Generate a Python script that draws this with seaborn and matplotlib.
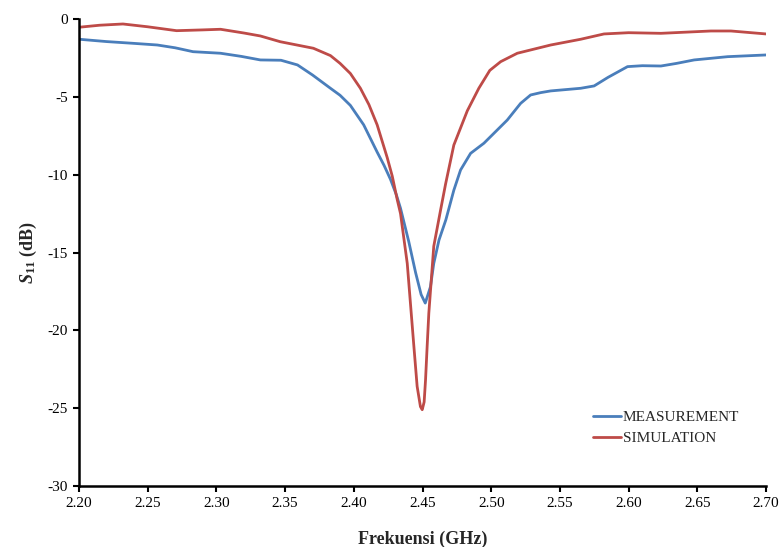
import numpy as np
import pandas as pd
import matplotlib
matplotlib.use("Agg")
import matplotlib.pyplot as plt
import seaborn as sns

# ---- data ----
meas_f = [2.200, 2.220, 2.239, 2.257, 2.270, 2.283, 2.303, 2.318, 2.332, 2.347, 2.359,
          2.370, 2.383, 2.390, 2.3975, 2.4072, 2.417, 2.422, 2.4267, 2.431, 2.434, 2.440,
          2.445, 2.449, 2.452, 2.4558, 2.4582, 2.462, 2.467, 2.4728, 2.4777, 2.485,
          2.4947, 2.502, 2.5117, 2.5214, 2.5287, 2.536, 2.5433, 2.5652, 2.5749, 2.585,
          2.5992, 2.610, 2.6235, 2.635, 2.6477, 2.6721, 2.700]
meas_s = [-1.30, -1.45, -1.56, -1.67, -1.85, -2.10, -2.20, -2.40, -2.63, -2.65, -2.95,
          -3.60, -4.45, -4.90, -5.55, -6.80, -8.55, -9.40, -10.30, -11.3, -12.16, -14.3,
          -16.3, -17.7, -18.25, -17.2, -15.7, -14.2, -12.9, -11.0, -9.7, -8.63,
          -7.98, -7.34, -6.49, -5.42, -4.88, -4.73, -4.62, -4.45, -4.30, -3.75,
          -3.06, -3.00, -3.02, -2.85, -2.63, -2.42, -2.31]

sim_f = [2.200, 2.215, 2.232, 2.250, 2.271, 2.290, 2.303, 2.320, 2.332, 2.3465, 2.3706,
         2.383, 2.390, 2.3975, 2.4048, 2.411, 2.417, 2.4243, 2.428, 2.4316, 2.434,
         2.4389, 2.4437, 2.4461, 2.4485, 2.4498, 2.4512, 2.4522, 2.4534, 2.4546, 2.4582,
         2.4631, 2.4668, 2.4728, 2.4826, 2.491, 2.499, 2.5069, 2.519, 2.5433, 2.5652,
         2.5821, 2.600, 2.6235, 2.6599, 2.6745, 2.700]
sim_s = [-0.53, -0.40, -0.32, -0.50, -0.75, -0.70, -0.66, -0.90, -1.09, -1.46, -1.88,
         -2.35, -2.85, -3.50, -4.45, -5.50, -6.80, -8.90, -10.1, -11.6, -12.5,
         -15.7, -21.0, -23.6, -24.9, -25.1, -24.6, -23.2, -21.0, -18.9, -14.6,
         -12.3, -10.6, -8.1, -5.9, -4.45, -3.3, -2.74, -2.2, -1.67, -1.3,
         -0.96, -0.88, -0.92, -0.77, -0.77, -0.96]

series_names = ["MEASUREMENT", "SIMULATION"]
x_ticks = [2.20, 2.25, 2.30, 2.35, 2.40, 2.45, 2.50, 2.55, 2.60, 2.65, 2.70]
y_ticks = [0, -5, -10, -15, -20, -25, -30]

df = pd.concat([
    pd.DataFrame({"f": meas_f, "s": meas_s, "series": series_names[0]}),
    pd.DataFrame({"f": sim_f, "s": sim_s, "series": series_names[1]}),
], ignore_index=True)

sns.set_style("ticks")
plt.rcParams["font.family"] = ["Liberation Serif", "DejaVu Serif"]
plt.rcParams["mathtext.fontset"] = "custom"
plt.rcParams["mathtext.it"] = "Liberation Serif:italic:bold"
plt.rcParams["mathtext.rm"] = "Liberation Serif:bold"
plt.rcParams["mathtext.bf"] = "Liberation Serif:bold"

fig = plt.figure(figsize=(7.8, 5.47), dpi=100)
ax = fig.add_axes([79/780, 1 - 486/547, (766-79)/780, (486-19)/547])

sns.lineplot(data=df, x="f", y="s", hue="series", sort=False, estimator=None,
             palette={"MEASUREMENT": "#4A7EBB", "SIMULATION": "#BE4B48"},
             linewidth=2.0, ax=ax)

ax.set_xlim(2.20, 2.70)
ax.set_ylim(-30, 0)
ax.set_xticks(x_ticks)
ax.set_xticklabels([f"{t:.2f}" for t in x_ticks])
ax.set_yticks(y_ticks)
ax.set_yticklabels([str(t) for t in y_ticks])
ax.tick_params(axis="both", direction="out", length=4, width=1.5, labelsize=11,
               colors="black", pad=4)
for side in ["top", "right"]:
    ax.spines[side].set_visible(False)
for side in ["left", "bottom"]:
    ax.spines[side].set_linewidth(1.8)
    ax.spines[side].set_color("black")

ax.set_xlabel("Frekuensi (GHz)", fontsize=13, fontweight="bold", labelpad=15)
ax.set_ylabel(r"$S_{\mathit{11}}$ (dB)", fontsize=13, fontweight="bold", labelpad=6)

leg = ax.legend(loc="upper left", bbox_to_anchor=(0.74, 0.175), frameon=False,
                fontsize=11, handlelength=1.8, handletextpad=0.1,
                labelspacing=0.5, borderaxespad=0)
for line in leg.get_lines():
    line.set_linewidth(2.0)

fig.savefig("out.png", dpi=100)
